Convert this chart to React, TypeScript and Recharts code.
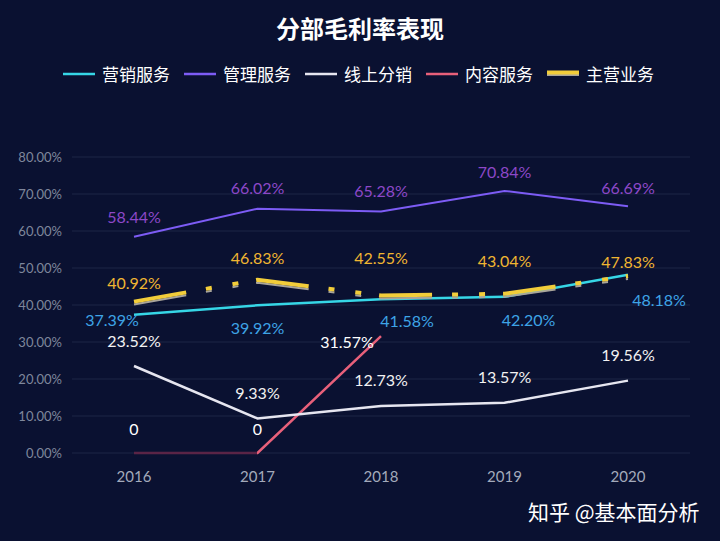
import React from 'react';
import { LineChart, Line, XAxis, YAxis, CartesianGrid, LabelList } from 'recharts';

const years = ['2016', '2017', '2018', '2019', '2020'];
const marketing = [37.39, 39.92, 41.58, 42.2, 48.18];
const management = [58.44, 66.02, 65.28, 70.84, 66.69];
const online = [23.52, 9.33, 12.73, 13.57, 19.56];
const content: (number | null)[] = [0, 0, 31.57, null, null];
const mainBiz = [40.92, 46.83, 42.55, 43.04, 47.83];
const yTicks = [0, 10, 20, 30, 40, 50, 60, 70, 80];

const seriesNames = ['营销服务', '管理服务', '线上分销', '内容服务', '主营业务'];

const data = years.map((y, i) => ({
  year: y,
  marketing: marketing[i],
  management: management[i],
  online: online[i],
  content: content[i],
  mainBiz: mainBiz[i],
}));

const NUM_FONT = 'Lato, "Noto Sans CJK SC", sans-serif';

const makeLabel = (
  color: string,
  dxs: number[],
  dys: number[],
  fmt: (v: number) => string = (v) => v.toFixed(2) + '%'
) => (props: any) => {
  const { x, y, value, index } = props;
  if (value === null || value === undefined || x == null || y == null) return null;
  return (
    <text
      x={Number(x) + (dxs[index] ?? 0)}
      y={Number(y) + (dys[index] ?? 0)}
      fill={color}
      fontSize={16}
      fontFamily={NUM_FONT}
      textAnchor="middle"
      dominantBaseline="central"
    >
      {fmt(Number(value))}
    </text>
  );
};

const DASH = '53 20 6 21 6 18';

const LegendIcon = ({ kind, color }: { kind: string; color: string }) => (
  <svg width={34} height={10} style={{ marginRight: 6 }}>
    {kind === 'main' ? (
      <>
        <line x1={1} y1={6} x2={33} y2={6} stroke="#a9a59a" strokeWidth={2} />
        <line x1={1} y1={3.5} x2={33} y2={3.5} stroke="#f2cd3a" strokeWidth={4} />
      </>
    ) : (
      <line x1={1} y1={5} x2={33} y2={5} stroke={color} strokeWidth={2.5} />
    )}
  </svg>
);

const legendColors = ['#36d6e6', '#7d5cf5', '#e6e6f0', '#e8607a', '#f2cd3a'];

export default function App() {
  return (
    <div
      style={{
        position: 'absolute',
        left: 0,
        top: 0,
        width: 720,
        height: 541,
        background: '#0a1131',
        overflow: 'hidden',
        fontFamily: '"Noto Sans CJK SC", sans-serif',
      }}
    >
      <div
        style={{
          position: 'absolute',
          top: 10,
          left: 0,
          width: 720,
          textAlign: 'center',
          color: '#ffffff',
          fontSize: 24,
          fontWeight: 700,
          lineHeight: '36px',
        }}
      >
        分部毛利率表现
      </div>
      <div
        style={{
          position: 'absolute',
          top: 61,
          left: 62,
          display: 'flex',
          alignItems: 'center',
          color: '#ffffff',
          fontSize: 17,
          lineHeight: '26px',
          whiteSpace: 'nowrap',
        }}
      >
        {seriesNames.map((n, i) => (
          <div key={n} style={{ display: 'flex', alignItems: 'center', marginRight: i < 4 ? 13 : 0 }}>
            <LegendIcon kind={i === 4 ? 'main' : 'line'} color={legendColors[i]} />
            <span>{n}</span>
          </div>
        ))}
      </div>
      <div style={{ position: 'absolute', left: 0, top: 0 }}>
        <LineChart
          width={720}
          height={541}
          data={data}
          margin={{ top: 157, right: 30, bottom: 58, left: 0 }}
        >
          <defs>
            <linearGradient id="pinkGrad" x1="0" y1="0" x2="1" y2="0">
              <stop offset="0" stopColor="#5a2446" />
              <stop offset="0.5" stopColor="#5a2446" />
              <stop offset="0.5" stopColor="#e8607a" />
              <stop offset="1" stopColor="#e8607a" />
            </linearGradient>
          </defs>
          <CartesianGrid vertical={false} stroke="#1c2747" strokeWidth={1} />
          <XAxis
            dataKey="year"
            axisLine={false}
            tickLine={false}
            tickSize={0}
            tickMargin={18}
            height={30}
            padding={{ left: 62, right: 62 }}
            tick={{ fill: '#a3aabb', fontSize: 15, fontFamily: NUM_FONT }}
          />
          <YAxis
            domain={[0, 80]}
            ticks={yTicks}
            axisLine={false}
            tickLine={false}
            tickSize={0}
            tickMargin={10}
            width={72}
            tickFormatter={(v: number) => v.toFixed(2) + '%'}
            tick={{ fill: '#7f879c', fontSize: 13, fontFamily: NUM_FONT }}
          />
          <Line
            dataKey="content"
            stroke="url(#pinkGrad)"
            strokeWidth={2.5}
            dot={false}
            activeDot={false}
            isAnimationActive={false}
          >
            <LabelList
              dataKey="content"
              content={makeLabel('#ffffff', [0, 0, -34], [-25, -25, 5], (v) => (v === 0 ? '0' : v.toFixed(2) + '%'))}
            />
          </Line>
          <Line
            dataKey="online"
            stroke="#e6e6f0"
            strokeWidth={2.5}
            dot={false}
            activeDot={false}
            isAnimationActive={false}
          >
            <LabelList dataKey="online" content={makeLabel('#f2f2f2', [0, 0, 0, 0, 0], [-25, -26, -26, -26, -26])} />
          </Line>
          <Line
            dataKey="management"
            stroke="#7d5cf5"
            strokeWidth={2}
            dot={false}
            activeDot={false}
            isAnimationActive={false}
          >
            <LabelList dataKey="management" content={makeLabel('#8d48c8', [0, 0, 0, 0, 0], [-20, -21, -21, -19, -19])} />
          </Line>
          <Line
            dataKey="marketing"
            stroke="#36d6e6"
            strokeWidth={2.5}
            dot={false}
            activeDot={false}
            isAnimationActive={false}
          >
            <LabelList dataKey="marketing" content={makeLabel('#3ea4e6', [-22, 0, 26, 24, 31], [5, 22, 21, 23, 25])} />
          </Line>
          <Line
            dataKey="mainBiz"
            stroke="#a9a59a"
            strokeWidth={2}
            strokeDasharray={DASH}
            transform="translate(0,3)"
            dot={false}
            activeDot={false}
            isAnimationActive={false}
          />
          <Line
            dataKey="mainBiz"
            stroke="#f2cd3a"
            strokeWidth={4}
            strokeDasharray={DASH}
            dot={false}
            activeDot={false}
            isAnimationActive={false}
          >
            <LabelList dataKey="mainBiz" content={makeLabel('#f0b631', [0, 0, 0, 0, 0], [-19, -22, -38, -33, -15])} />
          </Line>
        </LineChart>
      </div>
      <div
        style={{
          position: 'absolute',
          left: 528,
          top: 497,
          color: '#ffffff',
          fontSize: 21,
          lineHeight: '28px',
          whiteSpace: 'nowrap',
        }}
      >
        知乎 @基本面分析
      </div>
    </div>
  );
}
